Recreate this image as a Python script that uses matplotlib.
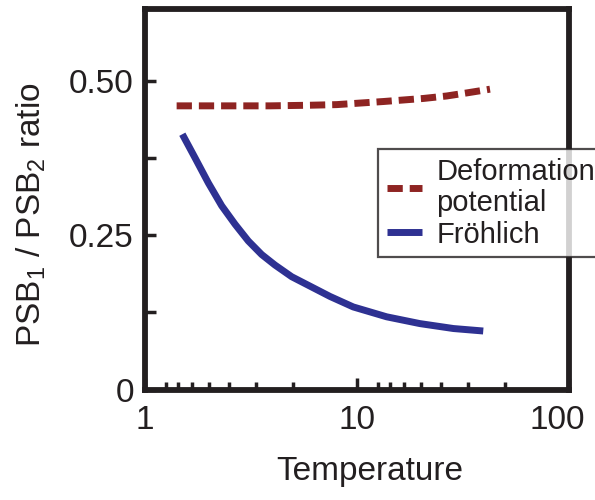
import numpy as np
import matplotlib
matplotlib.use("Agg")
import matplotlib.pyplot as plt
import matplotlib.transforms as mtransforms
from matplotlib.ticker import FixedLocator, NullFormatter

plt.rcParams['font.family'] = ['Liberation Sans', 'DejaVu Sans']
plt.rcParams['mathtext.default'] = 'regular'

# values
t_def = [1.41, 2.5, 3.89, 6.0, 8.02, 13.3, 20.6, 26.5, 33.0, 42.4]
r_def = [0.460, 0.460, 0.460, 0.461, 0.462, 0.467, 0.472, 0.476, 0.481, 0.487]

t_fro = [1.50, 1.72, 1.99, 2.30, 2.66, 3.07, 3.55, 4.10, 4.92, 7.46, 9.6, 13.8, 19.8, 28.5, 39.4]
r_fro = [0.414, 0.376, 0.335, 0.298, 0.268, 0.241, 0.219, 0.202, 0.183, 0.151, 0.134, 0.118,
         0.107, 0.099, 0.095]

x_ticks = [1, 10, 100]
x_minor = [1.25, 1.43, 1.67, 2, 2.5, 3.33, 5, 12.5, 14.3, 16.7, 20, 25, 33.3, 50]
y_ticks = [0, 0.25, 0.5]
y_labels = ["0", "0.25", "0.50"]
y_minor = [0.125, 0.375]

ink = "#231f20"
red = "#8e2422"
blue = "#2e3192"

fig = plt.figure(figsize=(5.95, 5.0), dpi=100)
ax = fig.add_axes([145/595, 1 - 389.6/500, 424/595, 380.6/500])

ax.plot(t_def, r_def, color=red, lw=5, linestyle=(0, (2.2, 1.0)),
        solid_capstyle='butt', dash_capstyle='butt', label="Deformation\npotential")
ax.plot(t_fro, r_fro, color=blue, lw=5, solid_capstyle='butt', label="Fröhlich")

ax.set_xscale('log')
ax.set_xlim(1, 100)
ax.set_ylim(0, 0.617)

ax.xaxis.set_major_locator(FixedLocator(x_ticks))
ax.xaxis.set_minor_locator(FixedLocator(x_minor))
ax.xaxis.set_minor_formatter(NullFormatter())
ax.set_xticklabels([str(v) for v in x_ticks])
ax.yaxis.set_major_locator(FixedLocator(y_ticks))
ax.yaxis.set_minor_locator(FixedLocator(y_minor))
ax.set_yticklabels(y_labels)

for s in ax.spines.values():
    s.set_linewidth(4.2)
    s.set_color(ink)

ax.tick_params(axis='both', which='both', direction='in', color=ink,
               width=2.5, labelsize=24, labelcolor=ink)
ax.tick_params(axis='x', which='major', length=9, pad=11)
ax.tick_params(axis='x', which='minor', length=6)
ax.tick_params(axis='y', which='both', length=8, pad=8)

# the "100" label sits a little left of its tick in the reference
lbl = ax.get_xticklabels()[-1]
lbl.set_transform(lbl.get_transform() + mtransforms.ScaledTranslation(-12/100, 0, fig.dpi_scale_trans))

ax.set_xlabel("Temperature", fontsize=24, color=ink)
ax.xaxis.set_label_coords((370 - 145) / 424, -(456 - 389.6) / 380.6)
ax.set_ylabel("PSB$_1$ / PSB$_2$ ratio", fontsize=24, color=ink)
ax.yaxis.set_label_coords(-(145 - 48) / 424, (389.6 - 215) / 380.6)

leg = ax.legend(loc='upper left', bbox_to_anchor=(0.55, 0.632), fontsize=21,
                frameon=True, fancybox=False, borderaxespad=0, borderpad=0.3,
                handlelength=1.2, handletextpad=0.5, labelspacing=0.12)
leg.get_frame().set_edgecolor(ink)
leg.get_frame().set_linewidth(1.6)
for txt in leg.get_texts():
    txt.set_color(ink)
    txt.set_linespacing(1.15)

fig.savefig("out.png", dpi=100)
